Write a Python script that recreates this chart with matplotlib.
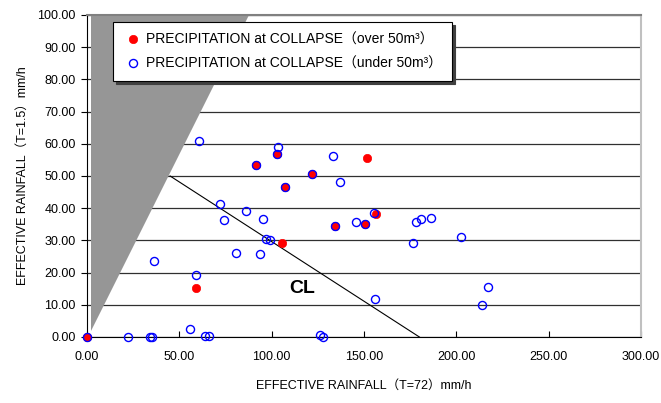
import matplotlib
matplotlib.use("Agg")
import matplotlib.pyplot as plt

plt.rcParams['font.family'] = ['Liberation Sans', 'Noto Sans CJK JP', 'DejaVu Sans']

# rainfall at collapse, over 50 m3
over_x = [0.0, 59.0, 91.3, 102.7, 107.2, 121.7, 134.4, 150.4, 156.3, 151.6, 105.8]
over_y = [0.0, 15.2, 53.3, 56.8, 46.7, 50.7, 34.4, 35.2, 38.2, 55.6, 29.3]

# rainfall at collapse, under 50 m3
under_x = [0.0, 60.6, 103.6, 102.7, 133.2, 91.3, 121.7, 136.8, 107.2, 71.8, 86.3,
           74.0, 95.1, 145.8, 150.4, 155.4, 134.4, 96.8, 98.9, 80.5, 93.7, 36.3,
           59.0, 155.7, 55.6, 22.2, 34.3, 35.0, 63.9, 65.9, 126.0, 127.8,
           178.0, 180.9, 186.1, 176.4, 202.3, 217.3, 214.1]
under_y = [0.0, 61.0, 59.1, 56.8, 56.3, 53.3, 50.7, 48.0, 46.7, 41.2, 39.2,
           36.4, 36.7, 35.7, 35.2, 38.6, 34.4, 30.3, 30.1, 26.1, 25.9, 23.5,
           19.3, 11.7, 2.5, 0.1, 0.0, 0.1, 0.4, 0.3, 0.7, 0.0,
           35.8, 36.7, 36.9, 29.3, 30.9, 15.5, 10.0]

# critical line and excluded (grey) zone
cl_x = [45, 180]
cl_y = [50, 0]
zone_x = [2, 2, 88]
zone_y = [2, 100, 100]

fig = plt.figure(figsize=(6.61, 4.03), dpi=100)
ax = fig.add_axes([0.1316, 0.1638, 0.8381, 0.7990])

ax.set_xlim(0, 300)
ax.set_ylim(0, 100)

ax.fill(zone_x, zone_y, color='#969696', lw=0, zorder=1)
ax.yaxis.grid(True, color='#303030', lw=0.9, zorder=0)
ax.set_axisbelow(True)

ax.plot(cl_x, cl_y, color='black', lw=0.8, zorder=2)
ax.text(116.5, 15, 'CL', fontsize=14, fontweight='bold', ha='center', va='center', zorder=3)

ax.plot(over_x, over_y, 'o', color='red', mec='red', ms=6, mew=0.5, ls='none',
        zorder=4, label='PRECIPITATION at COLLAPSE（over 50m³）', clip_on=False)
ax.plot(under_x, under_y, 'o', mfc='none', mec='blue', ms=5.8, mew=1.0, ls='none',
        zorder=5, label='PRECIPITATION at COLLAPSE（under 50m³）', clip_on=False)

ax.set_xticks(range(0, 301, 50))
ax.set_yticks(range(0, 101, 10))
ax.set_xticklabels(['%.2f' % v for v in range(0, 301, 50)])
ax.set_yticklabels(['%.2f' % v for v in range(0, 101, 10)])
ax.tick_params(axis='x', direction='in', length=4, labelsize=9, pad=10, color='black')
ax.tick_params(axis='y', direction='out', length=4, labelsize=9, pad=4, color='black')

ax.spines['top'].set_color('#808080')
ax.spines['top'].set_linewidth(1.5)
ax.spines['right'].set_color('#c0c0c0')
ax.spines['right'].set_linewidth(1.5)
ax.spines['left'].set_color('black')
ax.spines['bottom'].set_color('black')

ax.set_xlabel('EFFECTIVE RAINFALL（T=72）mm/h', fontsize=9, labelpad=12)
ax.set_ylabel('EFFECTIVE RAINFALL（T=1.5）mm/h', fontsize=9, labelpad=6)

leg = ax.legend(loc='upper left', bbox_to_anchor=(0.047, 0.978), borderaxespad=0,
                fancybox=False, edgecolor='black', framealpha=1, fontsize=10,
                handlelength=1.4, handletextpad=0.2, borderpad=0.75, labelspacing=0.75,
                shadow={'color': '#404040', 'alpha': 1})
leg.get_frame().set_linewidth(0.8)
leg.set_zorder(10)

fig.savefig('out.png', dpi=100)
